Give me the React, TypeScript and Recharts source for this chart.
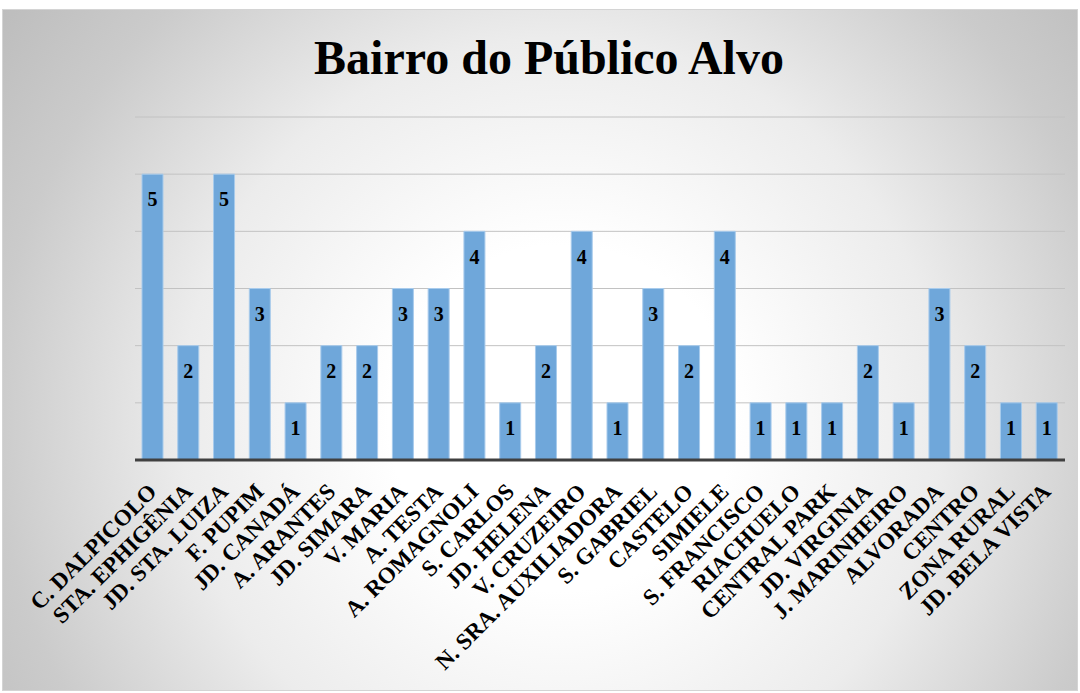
import React from "react";
import { Bar, BarChart, CartesianGrid, LabelList, XAxis, YAxis } from "recharts";

const bairros = [
  "C. DALPICOLO", "STA. EPHIGÊNIA", "JD. STA. LUIZA", "F. PUPIM", "JD. CANADÁ",
  "A. ARANTES", "JD. SIMARA", "V. MARIA", "A. TESTA", "A. ROMAGNOLI",
  "S. CARLOS", "JD. HELENA", "V. CRUZEIRO", "N. SRA. AUXILIADORA", "S. GABRIEL",
  "CASTELO", "SIMIELE", "S. FRANCISCO", "RIACHUELO", "CENTRAL PARK",
  "JD. VIRGINIA", "J. MARINHEIRO", "ALVORADA", "CENTRO", "ZONA RURAL", "JD. BELA VISTA",
];
const quantidades = [5, 2, 5, 3, 1, 2, 2, 3, 3, 4, 1, 2, 4, 1, 3, 2, 4, 1, 1, 1, 2, 1, 3, 2, 1, 1];
const yTicks = [0, 1, 2, 3, 4, 5, 6];

const data = bairros.map((nome, i) => ({ nome, qtd: quantidades[i] }));

const SERIF = "Liberation Serif, Tinos, Times New Roman, DejaVu Serif, Noto Serif, serif";

// rotated category label, anchored at its end just under the bar
function BairroTick({ x, y, payload }: any) {
  return (
    <g transform={`translate(${x + 5},${y + 33})`}>
      <text
        transform="rotate(-45)"
        textAnchor="end"
        style={{ fontFamily: SERIF, fontWeight: 700, fontSize: 23 }}
        fill="#000"
      >
        {payload.value}
      </text>
    </g>
  );
}

export default function App() {
  return (
    <div style={{ position: "fixed", left: 0, top: 0, width: 1080, height: 693, background: "#fff", fontFamily: SERIF }}>
      <div
        style={{
          position: "absolute", left: 2, top: 9, width: 1074, height: 680,
          border: "1px solid #d4d4d4",
          background:
            "radial-gradient(circle at 52% 60%, #ffffff 0%, #ffffff 25%, #ececec 55%, #cbcbcb 82%, #bdbdbd 100%)",
        }}
      >
        <div
          style={{
            position: "absolute", left: 546, top: 24, transform: "translateX(-50%)",
            whiteSpace: "nowrap", fontFamily: SERIF, fontWeight: 700, fontSize: 48, lineHeight: "48px",
            color: "#000",
          }}
        >
          Bairro do Público Alvo
        </div>
        <BarChart
          width={1074}
          height={680}
          data={data}
          margin={{ top: 107, right: 12, left: 132, bottom: 0 }}
        >
          <CartesianGrid vertical={false} stroke="#c2c2c2" />
          <YAxis hide domain={[0, 6]} ticks={yTicks} />
          <XAxis
            dataKey="nome"
            interval={0}
            height={230}
            tickLine={false}
            tickSize={0}
            tickMargin={0}
            axisLine={{ stroke: "#404040", strokeWidth: 3 }}
            tick={<BairroTick />}
          />
          <Bar dataKey="qtd" fill="#6fa7da" stroke="#a8cbec" strokeWidth={1} barSize={21} isAnimationActive={false}>
            <LabelList
              dataKey="qtd"
              position="insideTop"
              offset={18}
              style={{ fontFamily: SERIF, fontWeight: 700, fontSize: 20 }}
              fill="#000"
            />
          </Bar>
        </BarChart>
      </div>
    </div>
  );
}
